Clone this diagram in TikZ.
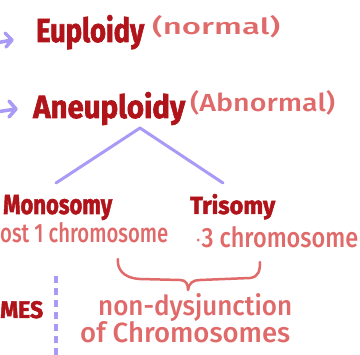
\documentclass[tikz,border=0pt]{standalone}
\usepackage{fontspec}
\setmainfont{Fira Sans}[BoldFeatures={FakeBold=2}]
\newfontfamily\notefont{Fira Sans Medium}
\usepackage{graphicx}
\definecolor{dred}{HTML}{B0141A}
\definecolor{salmon}{HTML}{E06A6A}
\definecolor{lav}{HTML}{A99BF5}
\newcommand{\fitt}[3]{\resizebox{#1}{#2}{#3}}
\tikzset{
  lbl/.style={inner sep=0pt, anchor=base west},
  title/.style={lbl, text=dred, font=\bfseries},
  note/.style={lbl, text=salmon, font=\notefont},
  lavline/.style={draw=lav, line width=3pt, line cap=round, line join=round},
  lavarrow/.style={draw=lav, line width=3.5pt, line cap=round, line join=round}
}
\begin{document}
\begin{tikzpicture}[x=1pt,y=-1pt]
\useasboundingbox (0,0) rectangle (360,355);
\clip (0,0) rectangle (360,355);
% titles
\node[title] (eu) at (36,42) {\fitt{108pt}{27pt}{Euploidy}};
\node[note] (nor) at (152,35) {\fitt{128pt}{19pt}{(normal)}};
\node[title] (an) at (33,118) {\fitt{152pt}{26pt}{Aneuploidy}};
\node[note] (abn) at (190,112) {\fitt{145pt}{21pt}{(Abnormal)}};
% arrows
\coordinate (a1s) at (-4,43);
\coordinate (a1e) at (12,40);
\coordinate (a2s) at (-4,112);
\coordinate (a2e) at (16,109);
\draw[lavarrow] (a1s) -- (a1e) (5,33) -- (a1e) -- (6,47);
\draw[lavarrow] (a2s) -- (a2e) (9,101) -- (a2e) -- (9,117);
% chevron
\coordinate (apex) at (140,128);
\coordinate (cl) at (56,183);
\coordinate (cr) at (223,183);
\draw[lavline] (cl) -- (apex) -- (cr);
% subtypes
\node[title] (mono) at (3,214) {\fitt{109pt}{19pt}{Monosomy}};
\node[note] (lost) at (0,243) {\fitt{168pt}{20pt}{ost 1 chromosome}};
\node[title] (tri) at (190,214) {\fitt{85pt}{20pt}{Trisomy}};
\node[note] (three) at (195,248) {\fitt{163pt}{21pt}{$\cdot$3 chromosome}};
% brace
\coordinate (b1) at (118,259);
\coordinate (b2) at (260,262);
\coordinate (bt) at (188,290);
\draw[draw=salmon, line width=2.5pt, line cap=round, line join=round]
  (b1) .. controls (117,268) and (122,278) .. (140,279)
  -- (180,280) .. controls (186,280) and (188,284) .. (bt)
  (bt) .. controls (189,283) and (193,280) .. (200,280)
  -- (250,278) .. controls (259,277) and (260,270) .. (b2);
% dashed line
\coordinate (d1) at (56,276);
\coordinate (d2) at (56,360);
\draw[draw=lav, line width=4pt, dash pattern=on 7pt off 5pt] (d1) -- (d2);
% bottom texts
\node[title] (mes) at (0,318) {\fitt{43pt}{17pt}{MES}};
\node[note] (nd) at (98,316) {\fitt{194pt}{22pt}{non-dysjunction}};
\node[note] (of) at (80,343) {\fitt{210pt}{21pt}{of Chromosomes}};
\end{tikzpicture}
\end{document}
